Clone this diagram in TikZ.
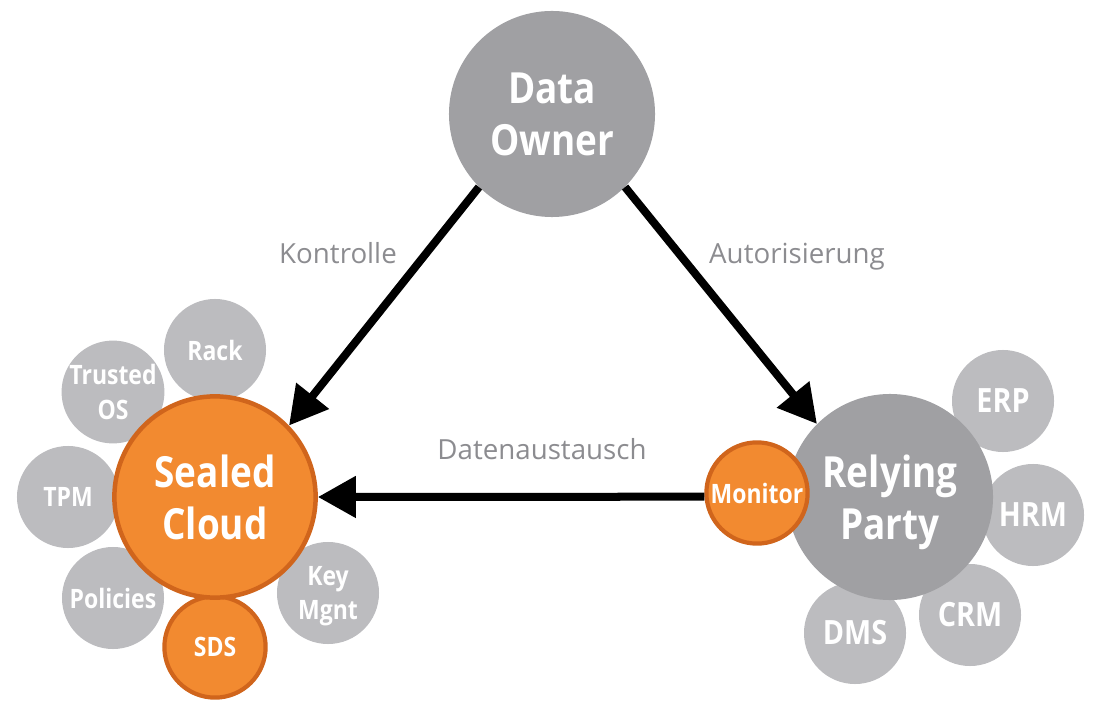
\documentclass[tikz,border=0pt]{standalone}
\usepackage{fontspec}
\setmainfont{Open Sans}
\newfontfamily\narrowfont[FakeStretch=0.86]{Open Sans}
\usetikzlibrary{arrows.meta}
\definecolor{sealorange}{HTML}{F28A30}
\definecolor{sealborder}{HTML}{D0651C}
\definecolor{hubgray}{HTML}{A0A0A3}
\definecolor{satgray}{HTML}{BCBCBF}
\definecolor{labelgray}{HTML}{8C8C90}
\newcommand{\bigtext}{\narrowfont\fontsize{30.5}{37}\selectfont\bfseries}
\newcommand{\midtext}{\narrowfont\fontsize{19}{24.5}\selectfont\bfseries}
\newcommand{\widetext}{\narrowfont\fontsize{23.8}{30}\selectfont\bfseries}

\begin{document}
\begin{tikzpicture}[
    x=0.025cm, y=-0.025cm,
    % Styles
    hub/.style={circle, fill=hubgray, text=white, minimum size=5.15cm, inner sep=0pt, align=center, font=\bigtext},
    sealedhub/.style={circle, draw=sealborder, fill=sealorange, line width=3.2pt, text=white, minimum size=5.03cm, inner sep=0pt, align=center, font=\bigtext},
    satellite/.style={circle, fill=satgray, text=white, minimum size=2.55cm, inner sep=0pt, align=center, font=\midtext},
    rightsat/.style={satellite, font=\widetext},
    orangesat/.style={circle, draw=sealborder, fill=sealorange, line width=3pt, text=white, minimum size=2.53cm, inner sep=0pt, align=center, font=\midtext},
    flow/.style={-{Triangle[length=0.95cm, width=1cm]}, line width=0.2cm, black},
    flowlabel/.style={text=labelgray, anchor=base, font=\fontsize{19.7}{24}\selectfont},
]
\useasboundingbox (0,0) rectangle (1109,720);

% Satellites of the sealed cloud
\node[satellite] (rack) at (215,350) {Rack};
\node[satellite] (trusted) at (113,392) {Trusted\\OS};
\node[satellite] (tpm) at (68,497) {TPM};
\node[satellite] (policies) at (113,598) {Policies};
\node[satellite, text depth=0pt] (key) at (328,593) {Key\\Mgnt};
\node[orangesat] (sds) at (215,647) {SDS};

% Satellites of the relying party
\node[rightsat] (erp) at (1003,401) {ERP};
\node[rightsat] (hrm) at (1033,515) {HRM};
\node[rightsat] (crm) at (970,615) {CRM};
\node[rightsat] (dms) at (855,633) {DMS};

% Main circles
\node[hub] (owner) at (552,114) {Data\\Owner};
\node[sealedhub] (sealed) at (215,497) {Sealed\\Cloud};
\node[hub, text depth=0pt] (relying) at (890,497) {Relying\\Party};
\node[orangesat] (monitor) at (757,493) {Monitor};

% Arrows
\draw[flow] (owner.225) -- (sealed.44);
\draw[flow] (owner.-45) -- (relying.135);
\draw[flow] (monitor.184) -- (sealed.east);

% Labels
\node[flowlabel] (kontrolle) at (338,264) {Kontrolle};
\node[flowlabel] (autorisierung) at (797,264) {Autorisierung};
\node[flowlabel] (austausch) at (542,459) {Datenaustausch};

\end{tikzpicture}
\end{document}
